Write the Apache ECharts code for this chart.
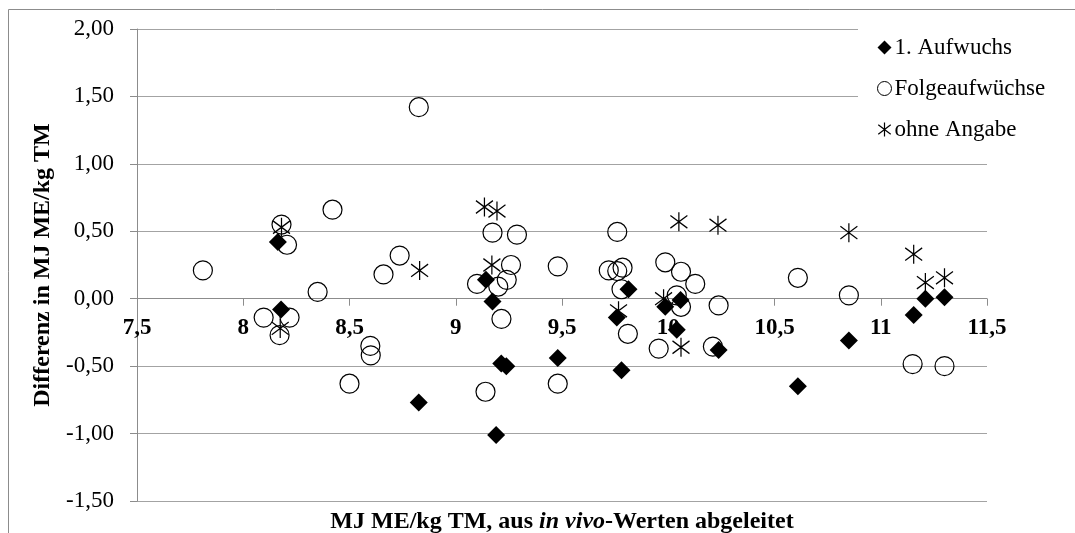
<!DOCTYPE html>
<html>
<head>
<meta charset="utf-8">
<script src="https://cdn.jsdelivr.net/npm/echarts@6/dist/echarts.min.js"></script>
<style>html,body{margin:0;padding:0;background:#fff}#chart{width:1075px;height:533px}</style>
</head>
<body>
<div id="chart"></div>
<script>
// ---- Data ----
const seriesNames = ['1. Aufwuchs', 'Folgeaufwüchse', 'ohne Angabe'];

const aufwuchsX = [8.163, 8.178, 8.826, 9.142, 9.173, 9.19, 9.214, 9.238, 9.48, 9.758, 9.78, 9.813, 9.986, 10.04, 10.058, 10.237, 10.61, 10.85, 11.155, 11.21, 11.30];
const aufwuchsY = [0.42, -0.08, -0.77, 0.14, -0.02, -1.01, -0.48, -0.50, -0.44, -0.14, -0.53, 0.07, -0.06, -0.23, -0.01, -0.38, -0.65, -0.31, -0.12, 0.00, 0.01];

const folgeX = [7.81, 8.18, 8.206, 8.42, 8.35, 8.66, 8.736, 8.826, 8.096, 8.218, 8.171, 8.598, 8.60, 8.50, 9.14, 9.10, 9.173, 9.288, 9.26, 9.24, 9.20, 9.215, 9.48, 9.48, 9.76, 9.72, 9.76, 9.785, 9.78, 9.81, 9.986, 10.06, 10.127, 10.04, 10.06, 10.237, 9.955, 10.21, 10.61, 10.85, 11.15, 11.30];
const folgeY = [0.21, 0.55, 0.40, 0.66, 0.05, 0.18, 0.32, 1.42, -0.14, -0.14, -0.27, -0.35, -0.42, -0.63, -0.69, 0.11, 0.49, 0.475, 0.25, 0.14, 0.09, -0.15, 0.24, -0.63, 0.495, 0.21, 0.205, 0.23, 0.07, -0.26, 0.27, 0.20, 0.11, 0.025, -0.06, -0.05, -0.37, -0.355, 0.155, 0.025, -0.485, -0.50];

const ohneX = [8.18, 8.174, 8.83, 9.135, 9.194, 9.17, 9.766, 9.978, 10.05, 10.234, 10.06, 10.85, 11.155, 11.21, 11.30];
const ohneY = [0.53, -0.22, 0.21, 0.68, 0.65, 0.25, -0.09, 0.00, 0.57, 0.545, -0.36, 0.49, 0.33, 0.12, 0.155];

const xTickValues = [7.5, 8, 8.5, 9, 9.5, 10, 10.5, 11, 11.5];
const xTickLabels = ['7,5', '8', '8,5', '9', '9,5', '10', '10,5', '11', '11,5'];
const yTickValues = [-1.5, -1, -0.5, 0, 0.5, 1, 1.5, 2];
const yTickLabels = ['-1,50', '-1,00', '-0,50', '0,00', '0,50', '1,00', '1,50', '2,00'];

const yAxisTitle = 'Differenz in MJ ME/kg TM';
const xTitleParts = ['MJ ME/kg TM, aus ', 'in vivo', '-Werten abgeleitet'];

// ---- Build ----
function zip(xs, ys) { return xs.map((x, i) => [x, ys[i]]); }
function lookup(values, labels, v) {
  let best = 0;
  for (let i = 1; i < values.length; i++) if (Math.abs(values[i] - v) < Math.abs(values[best] - v)) best = i;
  return labels[best];
}

const FONT = '"Liberation Serif", "Times New Roman", serif';
const starPath = 'path://M8,0 L8,18 M0,3 L16,15 M0,15 L16,3';
const gridColor = '#a3a3a3';
const axisColor = '#8c8c8c';

const GRID_TOP = 29, GRID_BOTTOM = 32, H = 533;
const yMin = -1.5, yMax = 2;
// the x axis crosses the y axis at 0: shift it up from the grid bottom by the height of the [yMin, 0] range
const plotH = H - GRID_TOP - GRID_BOTTOM;
const xAxisShift = -plotH * (0 - yMin) / (yMax - yMin);

const chart = echarts.init(document.getElementById('chart'), null, { renderer: 'canvas' });
chart.setOption({
  animation: false,
  backgroundColor: '#fff',
  textStyle: { fontFamily: FONT },
  grid: { left: 137, right: 88, top: GRID_TOP, bottom: GRID_BOTTOM, containLabel: false },
  legend: {
    orient: 'vertical',
    left: 858,
    top: 24,
    padding: [12, 60, 8, 19],
    itemGap: 18,
    itemWidth: 14,
    itemHeight: 14,
    selectedMode: false,
    backgroundColor: '#fff',
    textStyle: { fontFamily: FONT, fontSize: 23, color: '#000', padding: [0, 0, 0, -2] },
    data: [
      { name: seriesNames[0], icon: 'diamond', itemStyle: { color: '#000', borderWidth: 0 } },
      { name: seriesNames[1], icon: 'circle', itemStyle: { color: '#fff', borderColor: '#000', borderWidth: 1 } },
      { name: seriesNames[2], icon: starPath, itemStyle: { color: 'rgba(0,0,0,0)', borderColor: '#000', borderWidth: 1.2 } }
    ]
  },
  xAxis: {
    type: 'value',
    min: 7.5, max: 11.5, interval: 0.5,
    position: 'bottom',
    offset: xAxisShift,
    axisLine: { show: true, onZero: false, lineStyle: { color: axisColor, width: 1 } },
    axisTick: { show: true, inside: false, length: 7, lineStyle: { color: axisColor } },
    axisLabel: {
      margin: 18,
      fontFamily: FONT, fontSize: 23, fontWeight: 'bold', color: '#000',
      formatter: v => lookup(xTickValues, xTickLabels, v)
    },
    splitLine: { show: false }
  },
  yAxis: {
    type: 'value',
    min: yMin, max: yMax, interval: 0.5,
    name: yAxisTitle,
    nameLocation: 'middle',
    nameRotate: 90,
    nameGap: 80,
    nameTextStyle: { fontFamily: FONT, fontSize: 24, fontWeight: 'bold', color: '#000' },
    axisLine: { show: true, onZero: false, lineStyle: { color: axisColor, width: 1 } },
    axisTick: { show: true, inside: false, length: 7, lineStyle: { color: axisColor } },
    axisLabel: {
      margin: 23,
      fontFamily: FONT, fontSize: 23, color: '#000',
      formatter: v => lookup(yTickValues, yTickLabels, v)
    },
    splitLine: { show: true, lineStyle: { color: gridColor, width: 1 } }
  },
  graphic: [
    {
      type: 'rect', silent: true, z: -10,
      shape: { x: 8.5, y: 9.5, width: 1200, height: 700 },
      style: { fill: 'none', stroke: axisColor, lineWidth: 1 }
    },
    {
      type: 'text', silent: true,
      x: 562, y: 522,
      style: {
        text: '{b|' + xTitleParts[0] + '}{i|' + xTitleParts[1] + '}{b|' + xTitleParts[2] + '}',
        align: 'center', verticalAlign: 'middle',
        rich: {
          b: { fontFamily: FONT, fontSize: 24, fontWeight: 'bold', fill: '#000' },
          i: { fontFamily: FONT, fontSize: 24, fontWeight: 'bold', fontStyle: 'italic', fill: '#000' }
        }
      }
    }
  ],
  series: [
    {
      name: seriesNames[0], type: 'scatter',
      data: zip(aufwuchsX, aufwuchsY),
      symbol: 'diamond', symbolSize: 18,
      itemStyle: { color: '#000', opacity: 1 },
      emphasis: { disabled: true }
    },
    {
      name: seriesNames[1], type: 'scatter',
      data: zip(folgeX, folgeY),
      symbol: 'circle', symbolSize: 19,
      itemStyle: { color: 'rgba(0,0,0,0)', borderColor: '#000', borderWidth: 1.2, opacity: 1 },
      emphasis: { disabled: true }
    },
    {
      name: seriesNames[2], type: 'scatter',
      data: zip(ohneX, ohneY),
      symbol: starPath, symbolSize: [17, 19],
      itemStyle: { color: 'rgba(0,0,0,0)', borderColor: '#000', borderWidth: 1.3, opacity: 1 },
      emphasis: { disabled: true }
    }
  ]
});
</script>
</body>
</html>
